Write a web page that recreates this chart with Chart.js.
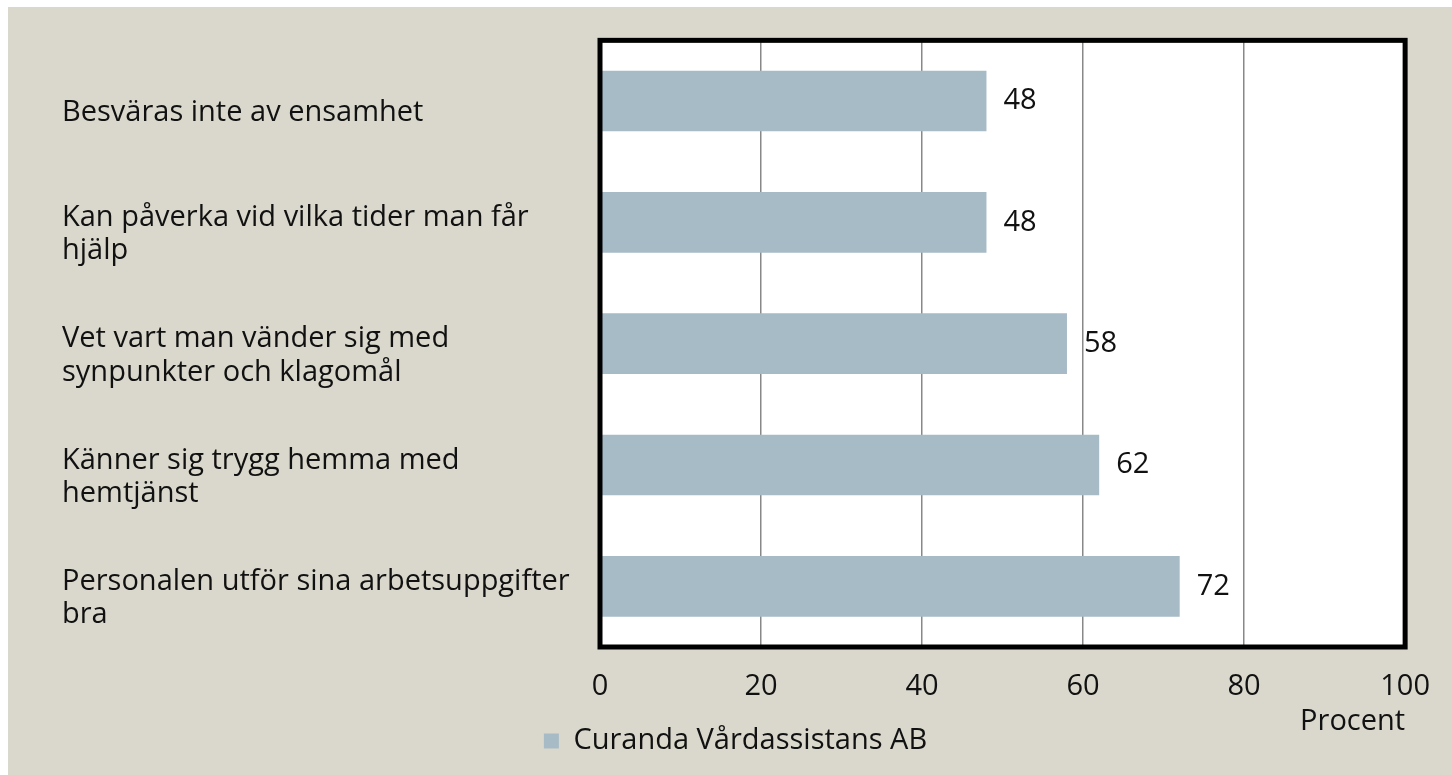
<!DOCTYPE html>
<html><head><meta charset="utf-8">
<script src="https://cdn.jsdelivr.net/npm/chart.js@4/dist/chart.umd.min.js"></script>
<style>
html,body{margin:0;padding:0;background:#fff;overflow:hidden;}
#wrap{position:absolute;left:8px;top:7px;width:1444px;height:768px;background:#DAD8CC;}
</style></head><body><div id="wrap"><canvas id="c"></canvas></div>
<script>
const categories = [
  ["Besväras inte av ensamhet"],
  ["Kan påverka vid vilka tider man får", "hjälp"],
  ["Vet vart man vänder sig med", "synpunkter och klagomål"],
  ["Känner sig trygg hemma med", "hemtjänst"],
  ["Personalen utför sina arbetsuppgifter", "bra"]
];
const values = [48, 48, 58, 62, 72];
const seriesName = "Curanda Vårdassistans AB";
const xMin = 0, xMax = 100, xStep = 20;
const axisTitle = "Procent";

const FONT = "'Open Sans', sans-serif";
const FS = 29;

const framePlugin = {
  id: 'frame',
  beforeDraw(chart) {
    const {ctx, chartArea: a} = chart;
    ctx.save();
    ctx.fillStyle = '#ffffff';
    ctx.fillRect(a.left, a.top, a.right - a.left, a.bottom - a.top);
    ctx.restore();
  },
  afterDatasetsDraw(chart) {
    const {ctx, chartArea: a} = chart;
    ctx.save();
    ctx.strokeStyle = '#000';
    ctx.lineWidth = 5;
    ctx.strokeRect(a.left, a.top, a.right - a.left, a.bottom - a.top);
    const meta = chart.getDatasetMeta(0);
    ctx.fillStyle = '#111';
    ctx.font = FS + 'px ' + FONT;
    ctx.textAlign = 'left';
    ctx.textBaseline = 'middle';
    meta.data.forEach((el, i) => {
      ctx.fillText(String(chart.data.datasets[0].data[i]), el.x + 17, el.y);
    });
    ctx.restore();
  }
};

new Chart(document.getElementById('c'), {
  type: 'bar',
  data: {
    labels: categories,
    datasets: [{
      label: seriesName,
      data: values,
      backgroundColor: '#A7BBC6',
      borderWidth: 0,
      barPercentage: 0.5,
      categoryPercentage: 1.0
    }]
  },
  options: {
    indexAxis: 'y',
    responsive: true,
    maintainAspectRatio: false,
    animation: false,
    layout: { padding: { left: 54, right: 43, top: 30, bottom: 9.5 } },
    plugins: {
      legend: {
        position: 'bottom',
        align: 'center',
        labels: {
          boxWidth: 15, boxHeight: 15, color: '#111',
          font: { family: FONT, size: FS }, padding: 4
        }
      },
      tooltip: { enabled: false }
    },
    scales: {
      x: {
        min: xMin, max: xMax,
        border: { display: false },
        grid: { color: '#888', lineWidth: 1.5, drawTicks: false },
        ticks: { stepSize: xStep, padding: 22, color: '#111', font: { family: FONT, size: FS } },
        title: {
          display: true, text: axisTitle, align: 'end', color: '#111',
          font: { family: FONT, size: FS }, padding: { top: 0, bottom: -17 }
        },
        afterFit(scale) { scale.height = 75.5; }
      },
      y: {
        border: { display: false },
        grid: { display: false, drawTicks: false },
        ticks: {
          crossAlign: 'far', padding: 0, labelOffset: 12, color: '#111',
          font: { family: FONT, size: FS, lineHeight: 1.15 }
        },
        afterFit(scale) { scale.width = 538; }
      }
    }
  },
  plugins: [framePlugin]
});
</script>
</body></html>
